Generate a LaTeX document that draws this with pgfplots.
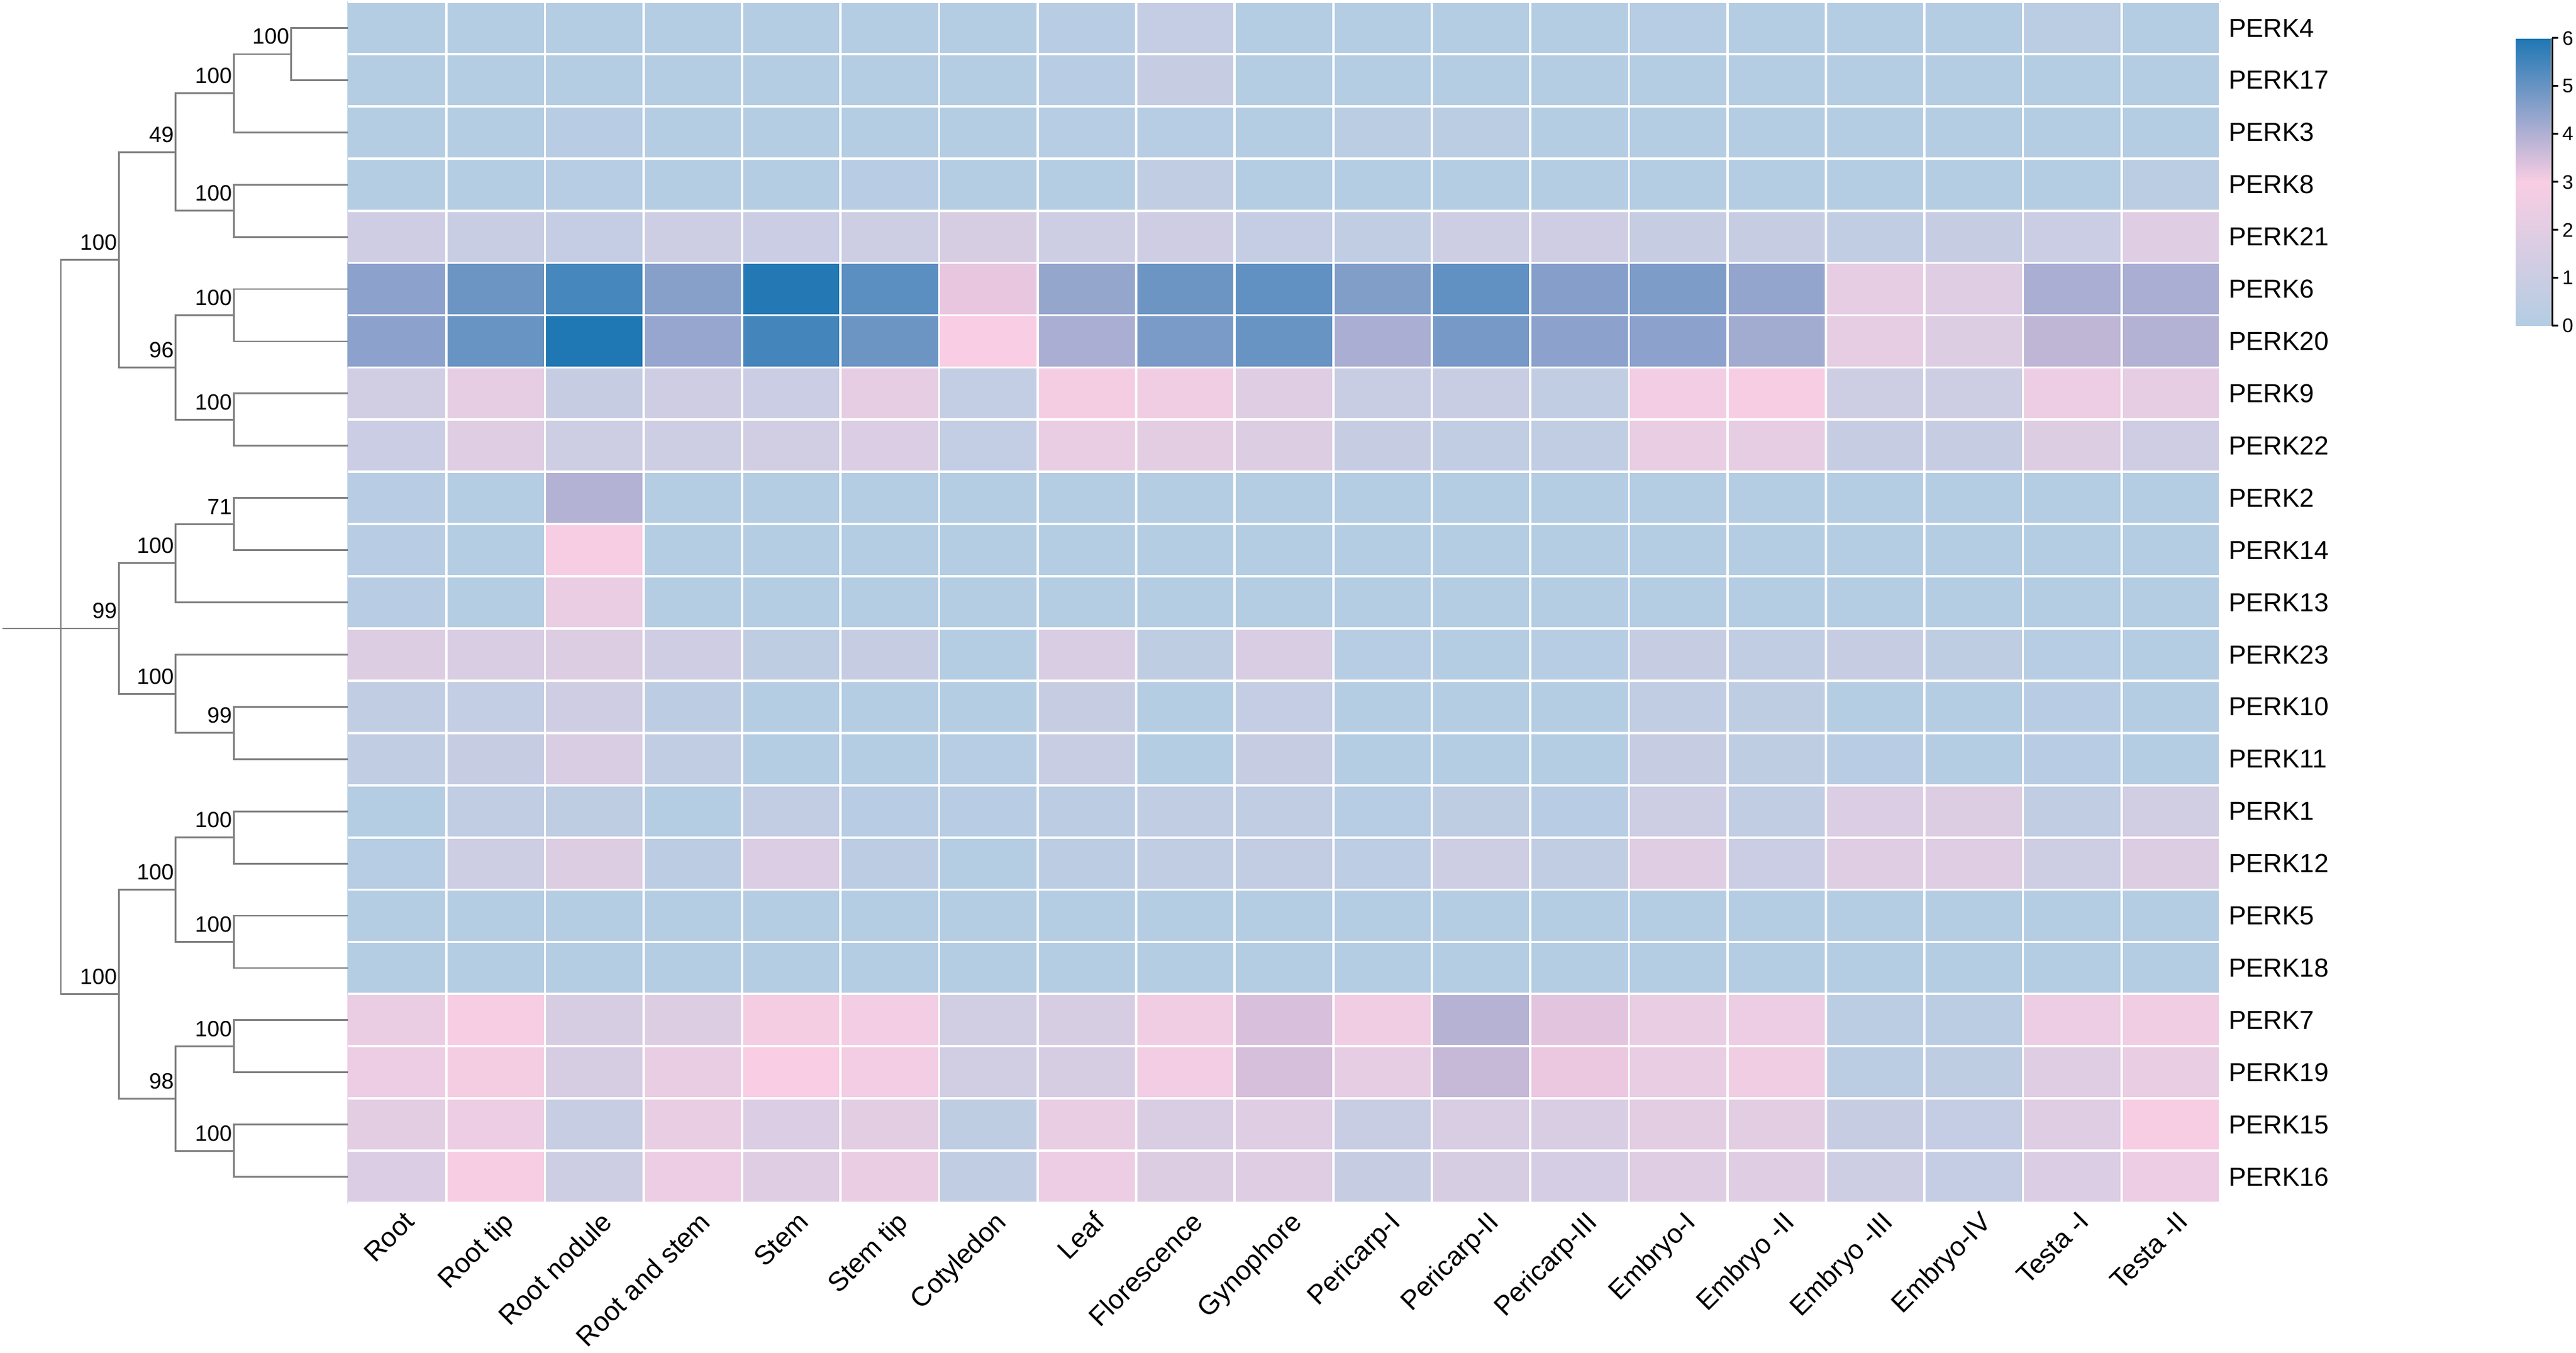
\documentclass[border=0pt]{standalone}
\usepackage{fontspec}
\setmainfont{Liberation Sans}
\usepackage{pgfplots}
\pgfplotsset{compat=1.18}

\definecolor{treegray}{RGB}{128,128,128}

% dendrogram node columns (axis units, heatmap starts at x=0)
\def\xs{-3.507}
\def\xr{-2.914}
\def\La{-2.325}
\def\Lb{-1.748}
\def\Lc{-1.158}
\def\Ld{-0.576}

\begin{document}
\begin{tikzpicture}
\begin{axis}[
    at={(0pt,0pt)}, anchor=south west,
    scale only axis,
    width=902.75pt, height=488.25pt,
    xmin=-3.5317, xmax=19, ymin=0, ymax=23,
    y dir=reverse,
    clip=false,
    axis line style={draw=none},
    major tick length=0pt,
    xtick={0.5,1.5,...,18.5},
    xticklabels={Root,Root tip,Root nodule,Root and stem,Stem,Stem tip,Cotyledon,Leaf,Florescence,Gynophore,Pericarp-I,Pericarp-II,Pericarp-III,Embryo-I,Embryo -II,Embryo -III,Embryo-IV,Testa -I,Testa -II},
    xticklabel style={rotate=45, anchor=north east, xshift=3pt, font=\fontsize{11}{13}\selectfont},
    ytick={0.5,1.5,...,22.5},
    yticklabels={PERK4,PERK17,PERK3,PERK8,PERK21,PERK6,PERK20,PERK9,PERK22,PERK2,PERK14,PERK13,PERK23,PERK10,PERK11,PERK1,PERK12,PERK5,PERK18,PERK7,PERK19,PERK15,PERK16},
    ytick pos=right, yticklabel pos=right,
    yticklabel style={anchor=west, font=\fontsize{10.6}{12}\selectfont},
    colormap={perk}{rgb255(0cm)=(179,205,227) rgb255(3cm)=(249,205,227) rgb255(6cm)=(31,119,180)},
    point meta min=0, point meta max=6,
    colorbar,
    colorbar shift/.style={xshift=1023pt, yshift=-14.75pt},
    colorbar style={
        at={(parent axis.north west)},
        anchor=north west,
        scale only axis,
        width=14.75pt, height=117pt,
        x dir=normal, y dir=normal,
        axis x line=none, axis y line*=right,
        axis line style={draw=black, line width=0.75pt, -},
        xtick=\empty,
        ytick={0,1,2,3,4,5,6},
        yticklabels={0,1,2,3,4,5,6},
        ytick pos=right, yticklabel pos=right,
        ytick align=outside,
        major tick length=2.5pt,
        tick style={black, line width=0.75pt},
        yticklabel style={anchor=west, rotate=0, xshift=0pt, inner sep=1.5pt, font=\fontsize{8}{9}\selectfont},
    },
]

% expression values, one line per gene (19 tissues each)
\addplot[matrix plot*, mesh/cols=19, point meta=explicit] table[
    row sep=\\, header=false, meta index=0,
    x expr={mod(\coordindex,19)+0.5},
    y expr={floor((\coordindex+0.5)/19)+0.5}] {
0.05\\ 0.05\\ 0.05\\ 0.05\\ 0.05\\ 0.1\\ 0.05\\ 0.2\\ 0.75\\ 0.05\\ 0.05\\ 0.05\\ 0.05\\ 0.15\\ 0.05\\ 0.05\\ 0.05\\ 0.3\\ 0.05\\
0.05\\ 0.05\\ 0.05\\ 0.05\\ 0.05\\ 0.05\\ 0.05\\ 0.2\\ 0.8\\ 0.05\\ 0.05\\ 0.05\\ 0.05\\ 0.1\\ 0.05\\ 0.05\\ 0.05\\ 0.05\\ 0.05\\
0.05\\ 0.05\\ 0.2\\ 0.1\\ 0.05\\ 0.05\\ 0.05\\ 0.15\\ 0.15\\ 0.05\\ 0.35\\ 0.35\\ 0.05\\ 0.05\\ 0.05\\ 0.05\\ 0.05\\ 0.05\\ 0.05\\
0.05\\ 0.05\\ 0.15\\ 0.05\\ 0.05\\ 0.2\\ 0.05\\ 0.05\\ 0.6\\ 0.05\\ 0.05\\ 0.05\\ 0.05\\ 0.05\\ 0.05\\ 0.05\\ 0.05\\ 0.1\\ 0.35\\
1.2\\ 0.9\\ 0.75\\ 1.1\\ 1.0\\ 1.1\\ 1.5\\ 1.1\\ 1.15\\ 0.75\\ 0.6\\ 1.1\\ 1.2\\ 0.8\\ 0.8\\ 0.6\\ 0.8\\ 1.0\\ 1.9\\
4.5\\ 4.95\\ 5.46\\ 4.57\\ 5.93\\ 5.17\\ 3.23\\ 4.38\\ 4.95\\ 5.1\\ 4.65\\ 5.1\\ 4.6\\ 4.7\\ 4.4\\ 2.2\\ 1.9\\ 4.1\\ 4.1\\
4.5\\ 5.0\\ 6.0\\ 4.35\\ 5.5\\ 4.95\\ 3.0\\ 4.1\\ 4.75\\ 5.0\\ 4.1\\ 4.8\\ 4.5\\ 4.5\\ 4.2\\ 2.2\\ 1.8\\ 3.8\\ 3.95\\
1.3\\ 2.2\\ 0.8\\ 1.2\\ 1.0\\ 2.2\\ 0.7\\ 2.8\\ 2.6\\ 1.9\\ 0.9\\ 0.9\\ 0.6\\ 2.7\\ 2.9\\ 1.1\\ 1.1\\ 2.5\\ 2.2\\
1.0\\ 1.9\\ 1.1\\ 1.1\\ 1.3\\ 1.7\\ 0.7\\ 2.3\\ 2.0\\ 1.8\\ 0.8\\ 0.6\\ 0.55\\ 2.3\\ 2.2\\ 0.8\\ 0.8\\ 1.8\\ 1.2\\
0.2\\ 0.05\\ 3.95\\ 0.05\\ 0.05\\ 0.05\\ 0.05\\ 0.05\\ 0.05\\ 0.05\\ 0.05\\ 0.05\\ 0.05\\ 0.05\\ 0.05\\ 0.05\\ 0.05\\ 0.05\\ 0.05\\
0.2\\ 0.05\\ 2.9\\ 0.05\\ 0.05\\ 0.05\\ 0.05\\ 0.05\\ 0.05\\ 0.05\\ 0.05\\ 0.05\\ 0.05\\ 0.05\\ 0.05\\ 0.05\\ 0.05\\ 0.05\\ 0.05\\
0.2\\ 0.05\\ 2.4\\ 0.05\\ 0.05\\ 0.05\\ 0.05\\ 0.05\\ 0.05\\ 0.05\\ 0.05\\ 0.05\\ 0.05\\ 0.05\\ 0.05\\ 0.05\\ 0.05\\ 0.05\\ 0.05\\
1.8\\ 1.6\\ 1.8\\ 1.2\\ 0.5\\ 0.8\\ 0.05\\ 1.6\\ 0.5\\ 1.6\\ 0.15\\ 0.1\\ 0.15\\ 0.8\\ 0.55\\ 0.8\\ 0.5\\ 0.15\\ 0.05\\
0.6\\ 0.7\\ 1.2\\ 0.4\\ 0.1\\ 0.05\\ 0.05\\ 0.8\\ 0.05\\ 0.75\\ 0.05\\ 0.05\\ 0.05\\ 0.6\\ 0.5\\ 0.05\\ 0.05\\ 0.2\\ 0.1\\
0.6\\ 0.8\\ 1.6\\ 0.6\\ 0.05\\ 0.1\\ 0.15\\ 0.9\\ 0.1\\ 0.8\\ 0.05\\ 0.05\\ 0.1\\ 0.8\\ 0.5\\ 0.2\\ 0.05\\ 0.2\\ 0.05\\
0.1\\ 0.6\\ 0.5\\ 0.05\\ 0.65\\ 0.2\\ 0.2\\ 0.4\\ 0.55\\ 0.55\\ 0.15\\ 0.5\\ 0.2\\ 1.1\\ 0.55\\ 1.7\\ 1.8\\ 0.55\\ 1.3\\
0.15\\ 1.1\\ 1.8\\ 0.4\\ 1.7\\ 0.4\\ 0.1\\ 0.4\\ 0.6\\ 0.65\\ 0.45\\ 1.1\\ 0.6\\ 1.9\\ 1.0\\ 1.9\\ 1.9\\ 1.1\\ 1.8\\
0.05\\ 0.05\\ 0.05\\ 0.05\\ 0.05\\ 0.05\\ 0.05\\ 0.05\\ 0.05\\ 0.05\\ 0.05\\ 0.05\\ 0.05\\ 0.05\\ 0.05\\ 0.05\\ 0.05\\ 0.05\\ 0.05\\
0.05\\ 0.05\\ 0.05\\ 0.05\\ 0.05\\ 0.05\\ 0.05\\ 0.05\\ 0.05\\ 0.05\\ 0.05\\ 0.05\\ 0.05\\ 0.05\\ 0.05\\ 0.05\\ 0.05\\ 0.05\\ 0.05\\
2.4\\ 2.9\\ 1.5\\ 1.8\\ 2.8\\ 2.75\\ 1.3\\ 1.5\\ 2.6\\ 3.45\\ 2.6\\ 3.93\\ 3.3\\ 2.3\\ 2.5\\ 0.3\\ 0.3\\ 2.5\\ 2.6\\
2.5\\ 2.85\\ 1.5\\ 2.3\\ 3.0\\ 2.7\\ 1.3\\ 1.5\\ 2.7\\ 3.5\\ 2.2\\ 3.7\\ 3.2\\ 2.3\\ 2.6\\ 0.3\\ 0.5\\ 1.9\\ 2.3\\
2.0\\ 2.5\\ 0.85\\ 2.3\\ 1.7\\ 2.0\\ 0.5\\ 2.3\\ 1.6\\ 1.9\\ 0.9\\ 1.6\\ 1.6\\ 2.0\\ 2.0\\ 0.8\\ 0.75\\ 1.9\\ 2.9\\
1.7\\ 2.9\\ 1.1\\ 2.5\\ 1.9\\ 2.4\\ 0.6\\ 2.5\\ 1.8\\ 1.9\\ 0.8\\ 1.5\\ 1.4\\ 1.9\\ 1.9\\ 1.1\\ 0.75\\ 1.7\\ 2.5\\
};

% white cell borders
\addplot[white, line width=0.95pt, forget plot, unbounded coords=jump] coordinates {
(0,0)(19,0)(0,nan)(0,1)(19,1)(0,nan)(0,2)(19,2)(0,nan)(0,3)(19,3)(0,nan)
(0,4)(19,4)(0,nan)(0,5)(19,5)(0,nan)(0,6)(19,6)(0,nan)(0,7)(19,7)(0,nan)
(0,8)(19,8)(0,nan)(0,9)(19,9)(0,nan)(0,10)(19,10)(0,nan)(0,11)(19,11)(0,nan)
(0,12)(19,12)(0,nan)(0,13)(19,13)(0,nan)(0,14)(19,14)(0,nan)(0,15)(19,15)(0,nan)
(0,16)(19,16)(0,nan)(0,17)(19,17)(0,nan)(0,18)(19,18)(0,nan)(0,19)(19,19)(0,nan)
(0,20)(19,20)(0,nan)(0,21)(19,21)(0,nan)(0,22)(19,22)(0,nan)(0,23)(19,23)(0,nan)
(1,0)(1,23)(0,nan)(2,0)(2,23)(0,nan)(3,0)(3,23)(0,nan)(4,0)(4,23)(0,nan)
(5,0)(5,23)(0,nan)(6,0)(6,23)(0,nan)(7,0)(7,23)(0,nan)(8,0)(8,23)(0,nan)
(9,0)(9,23)(0,nan)(10,0)(10,23)(0,nan)(11,0)(11,23)(0,nan)(12,0)(12,23)(0,nan)
(13,0)(13,23)(0,nan)(14,0)(14,23)(0,nan)(15,0)(15,23)(0,nan)(16,0)(16,23)(0,nan)
(17,0)(17,23)(0,nan)(18,0)(18,23)(0,nan)(19,0)(19,23)
};

% dendrogram
\addplot[treegray, line width=0.7pt, forget plot, unbounded coords=jump] coordinates {
(0,0.5)(\Ld,0.5)(\Ld,1.5)(0,1.5)(0,nan)
(\Ld,1.0)(\Lc,1.0)(\Lc,2.5)(0,2.5)(0,nan)
(0,3.5)(\Lc,3.5)(\Lc,4.5)(0,4.5)(0,nan)
(\Lc,1.75)(\Lb,1.75)(\Lb,4.0)(\Lc,4.0)(0,nan)
(0,5.5)(\Lc,5.5)(\Lc,6.5)(0,6.5)(0,nan)
(0,7.5)(\Lc,7.5)(\Lc,8.5)(0,8.5)(0,nan)
(\Lc,6.0)(\Lb,6.0)(\Lb,8.0)(\Lc,8.0)(0,nan)
(\Lb,2.875)(\La,2.875)(\La,7.0)(\Lb,7.0)(0,nan)
(0,9.5)(\Lc,9.5)(\Lc,10.5)(0,10.5)(0,nan)
(\Lc,10.0)(\Lb,10.0)(\Lb,11.5)(0,11.5)(0,nan)
(0,13.5)(\Lc,13.5)(\Lc,14.5)(0,14.5)(0,nan)
(0,12.5)(\Lb,12.5)(\Lb,14.0)(\Lc,14.0)(0,nan)
(\Lb,10.75)(\La,10.75)(\La,13.25)(\Lb,13.25)(0,nan)
(0,15.5)(\Lc,15.5)(\Lc,16.5)(0,16.5)(0,nan)
(0,17.5)(\Lc,17.5)(\Lc,18.5)(0,18.5)(0,nan)
(\Lc,16.0)(\Lb,16.0)(\Lb,18.0)(\Lc,18.0)(0,nan)
(0,19.5)(\Lc,19.5)(\Lc,20.5)(0,20.5)(0,nan)
(0,21.5)(\Lc,21.5)(\Lc,22.5)(0,22.5)(0,nan)
(\Lc,20.0)(\Lb,20.0)(\Lb,22.0)(\Lc,22.0)(0,nan)
(\Lb,17.0)(\La,17.0)(\La,21.0)(\Lb,21.0)(0,nan)
(\La,4.9375)(\xr,4.9375)(\xr,19.0)(\La,19.0)(0,nan)
(\xs,12.0)(\La,12.0)
};

% bootstrap values
\begin{scope}[every node/.style={anchor=base east, inner sep=0pt, yshift=4pt, xshift=-0.6pt, font=\fontsize{9}{10}\selectfont}]
\node at (axis cs:\Ld,1.0) {100};
\node at (axis cs:\Lc,1.75) {100};
\node at (axis cs:\Lc,4.0) {100};
\node at (axis cs:\Lb,2.875) {49};
\node at (axis cs:\Lc,6.0) {100};
\node at (axis cs:\Lc,8.0) {100};
\node at (axis cs:\Lb,7.0) {96};
\node at (axis cs:\La,4.9375) {100};
\node at (axis cs:\Lc,10.0) {71};
\node at (axis cs:\Lb,10.75) {100};
\node at (axis cs:\Lc,14.0) {99};
\node at (axis cs:\Lb,13.25) {100};
\node at (axis cs:\La,12.0) {99};
\node at (axis cs:\Lc,16.0) {100};
\node at (axis cs:\Lc,18.0) {100};
\node at (axis cs:\Lb,17.0) {100};
\node at (axis cs:\Lc,20.0) {100};
\node at (axis cs:\Lc,22.0) {100};
\node at (axis cs:\Lb,21.0) {98};
\node at (axis cs:\La,19.0) {100};
\end{scope}
\end{axis}
\pgfresetboundingbox
\path (0pt,-60.75pt) rectangle (1047.5pt,489pt);
\end{tikzpicture}
\end{document}
